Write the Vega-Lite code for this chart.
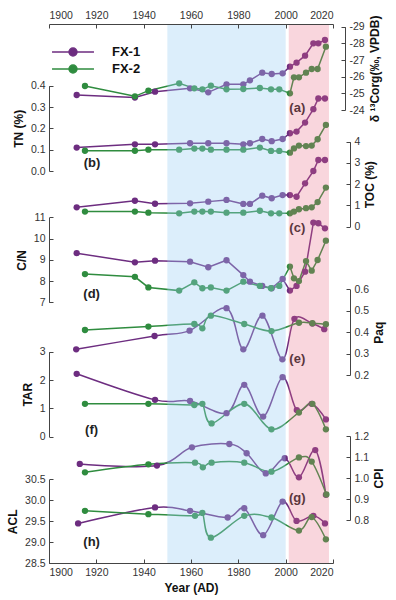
{
 "$schema": "https://vega.github.io/schema/vega-lite/v6.json",
 "width": 284, "height": 539,
 "autosize": {"type": "none"},
 "padding": {"left": 49, "top": 24, "right": 63, "bottom": 37},
 "datasets": {
  "d": [
   {"p":"a","s":"FX-1","year":1911.7,"v":-24.9},{"p":"a","s":"FX-1","year":1936.3,"v":-24.75},{"p":"a","s":"FX-1","year":1944.8,"v":-25.1},{"p":"a","s":"FX-1","year":1959.6,"v":-25.3},{"p":"a","s":"FX-1","year":1967.3,"v":-25.06},{"p":"a","s":"FX-1","year":1975,"v":-25.54},{"p":"a","s":"FX-1","year":1982.1,"v":-25.54},{"p":"a","s":"FX-1","year":1984.9,"v":-25.78},{"p":"a","s":"FX-1","year":1990.1,"v":-26.24},{"p":"a","s":"FX-1","year":1994.1,"v":-26.16},{"p":"a","s":"FX-1","year":1998.7,"v":-26.2},{"p":"a","s":"FX-1","year":2001.8,"v":-26.6},{"p":"a","s":"FX-1","year":2004.6,"v":-26.84},{"p":"a","s":"FX-1","year":2008.2,"v":-27.26},{"p":"a","s":"FX-1","year":2011.7,"v":-28},{"p":"a","s":"FX-1","year":2013.8,"v":-28},{"p":"a","s":"FX-1","year":2016.6,"v":-28.2},
   {"p":"a","s":"FX-2","year":1915.2,"v":-25.44},{"p":"a","s":"FX-2","year":1936.3,"v":-24.82},{"p":"a","s":"FX-2","year":1942,"v":-25.16},{"p":"a","s":"FX-2","year":1955,"v":-25.6},{"p":"a","s":"FX-2","year":1961.4,"v":-25.3},{"p":"a","s":"FX-2","year":1964.8,"v":-25.24},{"p":"a","s":"FX-2","year":1968.4,"v":-25.46},{"p":"a","s":"FX-2","year":1975,"v":-25.24},{"p":"a","s":"FX-2","year":1982.1,"v":-25.26},{"p":"a","s":"FX-2","year":1989.1,"v":-25.32},{"p":"a","s":"FX-2","year":1993.8,"v":-25.24},{"p":"a","s":"FX-2","year":1997.3,"v":-25.24},{"p":"a","s":"FX-2","year":2001.8,"v":-25.0},{"p":"a","s":"FX-2","year":2003.5,"v":-25.96},{"p":"a","s":"FX-2","year":2005.6,"v":-25.96},{"p":"a","s":"FX-2","year":2008.6,"v":-26.24},{"p":"a","s":"FX-2","year":2011,"v":-26.46},{"p":"a","s":"FX-2","year":2013.5,"v":-26.46},{"p":"a","s":"FX-2","year":2017,"v":-27.8},
   {"p":"b","s":"FX-1","year":1911.7,"v":0.11},{"p":"b","s":"FX-1","year":1936.3,"v":0.125},{"p":"b","s":"FX-1","year":1944.8,"v":0.125},{"p":"b","s":"FX-1","year":1959.6,"v":0.13},{"p":"b","s":"FX-1","year":1967.3,"v":0.13},{"p":"b","s":"FX-1","year":1975,"v":0.13},{"p":"b","s":"FX-1","year":1982.1,"v":0.125},{"p":"b","s":"FX-1","year":1984.9,"v":0.13},{"p":"b","s":"FX-1","year":1990.1,"v":0.15},{"p":"b","s":"FX-1","year":1994.1,"v":0.14},{"p":"b","s":"FX-1","year":1998.7,"v":0.15},{"p":"b","s":"FX-1","year":2001.8,"v":0.177},{"p":"b","s":"FX-1","year":2004.6,"v":0.185},{"p":"b","s":"FX-1","year":2008.2,"v":0.227},{"p":"b","s":"FX-1","year":2011.7,"v":0.29},{"p":"b","s":"FX-1","year":2013.8,"v":0.34},{"p":"b","s":"FX-1","year":2016.6,"v":0.34},
   {"p":"b","s":"FX-2","year":1915.2,"v":0.095},{"p":"b","s":"FX-2","year":1936.3,"v":0.095},{"p":"b","s":"FX-2","year":1942,"v":0.1},{"p":"b","s":"FX-2","year":1955,"v":0.1},{"p":"b","s":"FX-2","year":1961.4,"v":0.105},{"p":"b","s":"FX-2","year":1964.8,"v":0.105},{"p":"b","s":"FX-2","year":1968.4,"v":0.1},{"p":"b","s":"FX-2","year":1975,"v":0.1},{"p":"b","s":"FX-2","year":1982.1,"v":0.1},{"p":"b","s":"FX-2","year":1989.1,"v":0.11},{"p":"b","s":"FX-2","year":1993.8,"v":0.094},{"p":"b","s":"FX-2","year":1997.3,"v":0.094},{"p":"b","s":"FX-2","year":2001.8,"v":0.086},{"p":"b","s":"FX-2","year":2003.5,"v":0.106},{"p":"b","s":"FX-2","year":2005.6,"v":0.119},{"p":"b","s":"FX-2","year":2008.6,"v":0.117},{"p":"b","s":"FX-2","year":2011,"v":0.119},{"p":"b","s":"FX-2","year":2013.5,"v":0.149},{"p":"b","s":"FX-2","year":2017,"v":0.216},
   {"p":"c","s":"FX-1","year":1911.7,"v":0.91},{"p":"c","s":"FX-1","year":1936.3,"v":1.22},{"p":"c","s":"FX-1","year":1944.8,"v":1.08},{"p":"c","s":"FX-1","year":1959.6,"v":1.1},{"p":"c","s":"FX-1","year":1967.3,"v":1.18},{"p":"c","s":"FX-1","year":1975,"v":1.26},{"p":"c","s":"FX-1","year":1982.1,"v":1.07},{"p":"c","s":"FX-1","year":1984.9,"v":1.07},{"p":"c","s":"FX-1","year":1990.1,"v":1.46},{"p":"c","s":"FX-1","year":1994.1,"v":1.34},{"p":"c","s":"FX-1","year":1998.7,"v":1.49},{"p":"c","s":"FX-1","year":2001.8,"v":1.49},{"p":"c","s":"FX-1","year":2004.6,"v":1.41},{"p":"c","s":"FX-1","year":2008.2,"v":2.04},{"p":"c","s":"FX-1","year":2011.7,"v":2.62},{"p":"c","s":"FX-1","year":2013.8,"v":3.14},{"p":"c","s":"FX-1","year":2016.6,"v":3.14},
   {"p":"c","s":"FX-2","year":1915.2,"v":0.71},{"p":"c","s":"FX-2","year":1936.3,"v":0.71},{"p":"c","s":"FX-2","year":1942,"v":0.66},{"p":"c","s":"FX-2","year":1955,"v":0.63},{"p":"c","s":"FX-2","year":1961.4,"v":0.71},{"p":"c","s":"FX-2","year":1964.8,"v":0.71},{"p":"c","s":"FX-2","year":1968.4,"v":0.71},{"p":"c","s":"FX-2","year":1975,"v":0.66},{"p":"c","s":"FX-2","year":1982.1,"v":0.66},{"p":"c","s":"FX-2","year":1989.1,"v":0.75},{"p":"c","s":"FX-2","year":1993.8,"v":0.63},{"p":"c","s":"FX-2","year":1997.3,"v":0.63},{"p":"c","s":"FX-2","year":2001.8,"v":0.63},{"p":"c","s":"FX-2","year":2003.5,"v":0.71},{"p":"c","s":"FX-2","year":2005.6,"v":0.82},{"p":"c","s":"FX-2","year":2008.6,"v":0.87},{"p":"c","s":"FX-2","year":2011,"v":0.91},{"p":"c","s":"FX-2","year":2013.5,"v":1.16},{"p":"c","s":"FX-2","year":2017,"v":1.84},
   {"p":"d","s":"FX-1","year":1911.7,"v":9.31},{"p":"d","s":"FX-1","year":1936.3,"v":8.88},{"p":"d","s":"FX-1","year":1944.8,"v":8.96},{"p":"d","s":"FX-1","year":1959.6,"v":8.91},{"p":"d","s":"FX-1","year":1967.3,"v":8.65},{"p":"d","s":"FX-1","year":1975,"v":8.98},{"p":"d","s":"FX-1","year":1982.1,"v":8.28},{"p":"d","s":"FX-1","year":1984.9,"v":7.97},{"p":"d","s":"FX-1","year":1990.1,"v":7.77},{"p":"d","s":"FX-1","year":1994.1,"v":7.66},{"p":"d","s":"FX-1","year":1998.7,"v":8.1},{"p":"d","s":"FX-1","year":2001.8,"v":7.55},{"p":"d","s":"FX-1","year":2004.6,"v":7.77},{"p":"d","s":"FX-1","year":2008.2,"v":8.44},{"p":"d","s":"FX-1","year":2011.7,"v":10.75},{"p":"d","s":"FX-1","year":2013.8,"v":10.72},{"p":"d","s":"FX-1","year":2016.6,"v":10.48},
   {"p":"d","s":"FX-2","year":1915.2,"v":8.33},{"p":"d","s":"FX-2","year":1936.3,"v":8.2},{"p":"d","s":"FX-2","year":1942,"v":7.7},{"p":"d","s":"FX-2","year":1955,"v":7.55},{"p":"d","s":"FX-2","year":1961.4,"v":7.94},{"p":"d","s":"FX-2","year":1964.8,"v":7.66},{"p":"d","s":"FX-2","year":1968.4,"v":7.7},{"p":"d","s":"FX-2","year":1975,"v":7.55},{"p":"d","s":"FX-2","year":1982.1,"v":7.97},{"p":"d","s":"FX-2","year":1989.1,"v":7.77},{"p":"d","s":"FX-2","year":1993.8,"v":7.66},{"p":"d","s":"FX-2","year":1997.3,"v":7.77},{"p":"d","s":"FX-2","year":2001.8,"v":8.68},{"p":"d","s":"FX-2","year":2003.5,"v":8.13},{"p":"d","s":"FX-2","year":2005.6,"v":8.0},{"p":"d","s":"FX-2","year":2008.6,"v":8.94},{"p":"d","s":"FX-2","year":2011,"v":8.49},{"p":"d","s":"FX-2","year":2013.5,"v":8.99},{"p":"d","s":"FX-2","year":2017,"v":9.9},
   {"p":"e","s":"FX-1","year":1911.5,"v":0.32},{"p":"e","s":"FX-1","year":1944.6,"v":0.382},{"p":"e","s":"FX-1","year":1959.4,"v":0.407},{"p":"e","s":"FX-1","year":1975,"v":0.512},{"p":"e","s":"FX-1","year":1982.1,"v":0.32},{"p":"e","s":"FX-1","year":1990.2,"v":0.477},{"p":"e","s":"FX-1","year":1998.6,"v":0.273},{"p":"e","s":"FX-1","year":2003.7,"v":0.462},{"p":"e","s":"FX-1","year":2011.3,"v":0.44},{"p":"e","s":"FX-1","year":2016.3,"v":0.414},
   {"p":"e","s":"FX-2","year":1915.2,"v":0.41},{"p":"e","s":"FX-2","year":1942,"v":0.426},{"p":"e","s":"FX-2","year":1961.4,"v":0.438},{"p":"e","s":"FX-2","year":1964.8,"v":0.418},{"p":"e","s":"FX-2","year":1968.4,"v":0.477},{"p":"e","s":"FX-2","year":1982.5,"v":0.438},{"p":"e","s":"FX-2","year":1994,"v":0.405},{"p":"e","s":"FX-2","year":2005.6,"v":0.444},{"p":"e","s":"FX-2","year":2011.3,"v":0.442},{"p":"e","s":"FX-2","year":2017,"v":0.437},
   {"p":"f","s":"FX-1","year":1911.7,"v":2.22},{"p":"f","s":"FX-1","year":1944.8,"v":1.3},{"p":"f","s":"FX-1","year":1959.6,"v":1.26},{"p":"f","s":"FX-1","year":1975,"v":0.83},{"p":"f","s":"FX-1","year":1982.5,"v":1.83},{"p":"f","s":"FX-1","year":1990.5,"v":0.71},{"p":"f","s":"FX-1","year":1998.7,"v":2.1},{"p":"f","s":"FX-1","year":2004.7,"v":0.94},{"p":"f","s":"FX-1","year":2011,"v":1.16},{"p":"f","s":"FX-1","year":2017,"v":0.61},
   {"p":"f","s":"FX-2","year":1915.2,"v":1.16},{"p":"f","s":"FX-2","year":1942,"v":1.16},{"p":"f","s":"FX-2","year":1961.4,"v":1.12},{"p":"f","s":"FX-2","year":1964.8,"v":1.16},{"p":"f","s":"FX-2","year":1968.7,"v":0.47},{"p":"f","s":"FX-2","year":1982.5,"v":1.16},{"p":"f","s":"FX-2","year":1994,"v":0.26},{"p":"f","s":"FX-2","year":2005.6,"v":0.85},{"p":"f","s":"FX-2","year":2011.3,"v":1.16},{"p":"f","s":"FX-2","year":2017,"v":0.26},
   {"p":"g","s":"FX-1","year":1913,"v":1.067},{"p":"g","s":"FX-1","year":1945.6,"v":1.059},{"p":"g","s":"FX-1","year":1960.4,"v":1.146},{"p":"g","s":"FX-1","year":1976.2,"v":1.162},{"p":"g","s":"FX-1","year":1983.5,"v":1.118},{"p":"g","s":"FX-1","year":1991.6,"v":1.022},{"p":"g","s":"FX-1","year":1999.6,"v":1.094},{"p":"g","s":"FX-1","year":2005.6,"v":1.003},{"p":"g","s":"FX-1","year":2012.5,"v":1.133},{"p":"g","s":"FX-1","year":2017,"v":0.92},
   {"p":"g","s":"FX-2","year":1915.2,"v":1.027},{"p":"g","s":"FX-2","year":1942,"v":1.065},{"p":"g","s":"FX-2","year":1961.7,"v":1.073},{"p":"g","s":"FX-2","year":1965,"v":1.051},{"p":"g","s":"FX-2","year":1968.7,"v":1.073},{"p":"g","s":"FX-2","year":1982.5,"v":1.073},{"p":"g","s":"FX-2","year":1994,"v":1.03},{"p":"g","s":"FX-2","year":2005.6,"v":1.098},{"p":"g","s":"FX-2","year":2011,"v":1.078},{"p":"g","s":"FX-2","year":2017.2,"v":0.922},
   {"p":"h","s":"FX-1","year":1912.3,"v":29.45},{"p":"h","s":"FX-1","year":1944.8,"v":29.83},{"p":"h","s":"FX-1","year":1959.6,"v":29.75},{"p":"h","s":"FX-1","year":1975.5,"v":29.59},{"p":"h","s":"FX-1","year":1982.5,"v":29.81},{"p":"h","s":"FX-1","year":1990.5,"v":29.17},{"p":"h","s":"FX-1","year":1998.7,"v":29.97},{"p":"h","s":"FX-1","year":2004.6,"v":29.51},{"p":"h","s":"FX-1","year":2011.7,"v":29.63},{"p":"h","s":"FX-1","year":2016.6,"v":29.45},
   {"p":"h","s":"FX-2","year":1915.2,"v":29.75},{"p":"h","s":"FX-2","year":1942,"v":29.67},{"p":"h","s":"FX-2","year":1961.7,"v":29.63},{"p":"h","s":"FX-2","year":1964.8,"v":29.7},{"p":"h","s":"FX-2","year":1968.4,"v":29.11},{"p":"h","s":"FX-2","year":1982.5,"v":29.63},{"p":"h","s":"FX-2","year":1994,"v":29.59},{"p":"h","s":"FX-2","year":2005.6,"v":29.28},{"p":"h","s":"FX-2","year":2011,"v":29.6},{"p":"h","s":"FX-2","year":2017,"v":29.07}
  ],
  "lab": [
   {"p":"a","lab":"(a)","year":2004.9,"v":-24.1},
   {"p":"b","lab":"(b)","year":1918.2,"v":0.0375},
   {"p":"c","lab":"(c)","year":2004.9,"v":-0.06},
   {"p":"d","lab":"(d)","year":1918,"v":7.39},
   {"p":"e","lab":"(e)","year":2004.9,"v":0.275},
   {"p":"f","lab":"(f)","year":1918,"v":0.237},
   {"p":"g","lab":"(g)","year":2004.9,"v":0.905},
   {"p":"h","lab":"(h)","year":1918,"v":29.007}
  ],
  "shade": [
   {"r":"blue","start":1950,"end":2000},
   {"r":"pink","start":2001.3,"end":2018.3}
  ]
 },
 "data": {"name": "d"},
 "resolve": {"scale": {"y": "independent"}, "axis": {"x": "independent", "y": "independent"}},
 "layer": [
  {
   "encoding": {
    "x": {"field":"year","type":"quantitative","scale":{"domain":[1900,2020],"nice":false,"zero":false},"axis":null},
    "y": {"field":"v","type":"quantitative","scale":{"domain":[-29,-24],"range":[2.7,86],"nice":false,"zero":false},
          "axis":{"orient":"right","offset":12,"values":[-29,-28,-27,-26,-25,-24],"labelExpr":"'' + datum.value","title":"δ ¹³Corg(‰, VPDB)","titleAngle":-90,"titleBaseline":"top"}}
   },
   "layer": [
    {"transform":[{"filter":"datum.p === 'a'"}],"mark":{"type":"line","strokeWidth":1.5},
     "encoding":{"stroke":{"field":"s","type":"nominal","scale":{"domain":["FX-1","FX-2"],"range":["#6d2d80","#2f8c3f"]},
        "legend":{"orient":"none","legendX":14,"legendY":18,"title":null,"padding":0,"rowPadding":0,
        "symbolType":"M-2.33,0L2.33,0M0.45,0A0.45,0.45,0,1,1,-0.45,0A0.45,0.45,0,1,1,0.45,0","symbolSize":324,"symbolStrokeWidth":1.3,"symbolOpacity":1,
        "labelOffset":29,"labelFont":"Liberation Sans","labelFontSize":13,"labelFontWeight":"bold","labelColor":"#111"}}}},
    {"transform":[{"filter":"datum.p === 'a'"}],"mark":{"type":"point","filled":true,"size":40,"opacity":1},
     "encoding":{"fill":{"field":"s","type":"nominal","scale":{"domain":["FX-1","FX-2"],"range":["#6d2d80","#2f8c3f"]},
        "legend":{"orient":"none","legendX":14,"legendY":18,"title":null,"padding":0,"rowPadding":0,
        "symbolType":"M-2.33,0L2.33,0M0.45,0A0.45,0.45,0,1,1,-0.45,0A0.45,0.45,0,1,1,0.45,0","symbolSize":324,"symbolStrokeWidth":1.3,"symbolOpacity":1,
        "labelOffset":29,"labelFont":"Liberation Sans","labelFontSize":13,"labelFontWeight":"bold","labelColor":"#111"}}}},
    {"data":{"name":"lab"},"transform":[{"filter":"datum.p === 'a'"}],"mark":{"type":"text","font":"Liberation Sans","fontSize":13,"fontWeight":"bold","color":"#222","align":"center","baseline":"middle"},
     "encoding":{"text":{"field":"lab"}}}
   ]
  },
  {
   "encoding": {
    "x": {"field":"year","type":"quantitative","scale":{"domain":[1900,2020],"nice":false,"zero":false},"axis":null},
    "y": {"field":"v","type":"quantitative","scale":{"domain":[0,0.4],"range":[147,61.7],"nice":false,"zero":false},
          "axis":{"orient":"left","values":[0,0.1,0.2,0.3,0.4],"format":".1f","title":"TN (%)"}}
   },
   "layer": [
    {"transform":[{"filter":"datum.p === 'b'"}],"mark":{"type":"line","strokeWidth":1.5},"encoding":{"stroke":{"field":"s","type":"nominal"}}},
    {"transform":[{"filter":"datum.p === 'b'"}],"mark":{"type":"point","filled":true,"size":40,"opacity":1},"encoding":{"fill":{"field":"s","type":"nominal"}}},
    {"data":{"name":"lab"},"transform":[{"filter":"datum.p === 'b'"}],"mark":{"type":"text","font":"Liberation Sans","fontSize":13,"fontWeight":"bold","color":"#222","align":"center","baseline":"middle"},"encoding":{"text":{"field":"lab"}}}
   ]
  },
  {
   "encoding": {
    "x": {"field":"year","type":"quantitative","scale":{"domain":[1900,2020],"nice":false,"zero":false},"axis":null},
    "y": {"field":"v","type":"quantitative","scale":{"domain":[0,4],"range":[202.7,117.7],"nice":false,"zero":false},
          "axis":{"orient":"right","offset":17,"values":[0,1,2,3,4],"format":"d","title":"TOC (%)","titleAngle":-90,"titleBaseline":"top"}}
   },
   "layer": [
    {"transform":[{"filter":"datum.p === 'c'"}],"mark":{"type":"line","strokeWidth":1.5},"encoding":{"stroke":{"field":"s","type":"nominal"}}},
    {"transform":[{"filter":"datum.p === 'c'"}],"mark":{"type":"point","filled":true,"size":40,"opacity":1},"encoding":{"fill":{"field":"s","type":"nominal"}}},
    {"data":{"name":"lab"},"transform":[{"filter":"datum.p === 'c'"}],"mark":{"type":"text","font":"Liberation Sans","fontSize":13,"fontWeight":"bold","color":"#222","align":"center","baseline":"middle"},"encoding":{"text":{"field":"lab"}}}
   ]
  },
  {
   "encoding": {
    "x": {"field":"year","type":"quantitative","scale":{"domain":[1900,2020],"nice":false,"zero":false},"axis":null},
    "y": {"field":"v","type":"quantitative","scale":{"domain":[7,11],"range":[278.3,193.3],"nice":false,"zero":false},
          "axis":{"orient":"left","values":[7,8,9,10,11],"format":"d","title":"C/N"}}
   },
   "layer": [
    {"transform":[{"filter":"datum.p === 'd'"}],"mark":{"type":"line","strokeWidth":1.5},"encoding":{"stroke":{"field":"s","type":"nominal"}}},
    {"transform":[{"filter":"datum.p === 'd'"}],"mark":{"type":"point","filled":true,"size":40,"opacity":1},"encoding":{"fill":{"field":"s","type":"nominal"}}},
    {"data":{"name":"lab"},"transform":[{"filter":"datum.p === 'd'"}],"mark":{"type":"text","font":"Liberation Sans","fontSize":13,"fontWeight":"bold","color":"#222","align":"center","baseline":"middle"},"encoding":{"text":{"field":"lab"}}}
   ]
  },
  {
   "encoding": {
    "x": {"field":"year","type":"quantitative","scale":{"domain":[1900,2020],"nice":false,"zero":false},"axis":null},
    "y": {"field":"v","type":"quantitative","scale":{"domain":[0.2,0.6],"range":[351,265.3],"nice":false,"zero":false},
          "axis":{"orient":"right","offset":17,"values":[0.2,0.3,0.4,0.5,0.6],"format":".1f","title":"Paq","titleAngle":-90,"titleBaseline":"top"}}
   },
   "layer": [
    {"transform":[{"filter":"datum.p === 'e'"}],"mark":{"type":"line","strokeWidth":1.5,"interpolate":"cardinal"},"encoding":{"stroke":{"field":"s","type":"nominal"}}},
    {"transform":[{"filter":"datum.p === 'e'"}],"mark":{"type":"point","filled":true,"size":40,"opacity":1},"encoding":{"fill":{"field":"s","type":"nominal"}}},
    {"data":{"name":"lab"},"transform":[{"filter":"datum.p === 'e'"}],"mark":{"type":"text","font":"Liberation Sans","fontSize":13,"fontWeight":"bold","color":"#222","align":"center","baseline":"middle"},"encoding":{"text":{"field":"lab"}}}
   ]
  },
  {
   "encoding": {
    "x": {"field":"year","type":"quantitative","scale":{"domain":[1900,2020],"nice":false,"zero":false},"axis":null},
    "y": {"field":"v","type":"quantitative","scale":{"domain":[0,3],"range":[412.7,327.7],"nice":false,"zero":false},
          "axis":{"orient":"left","values":[0,1,2,3],"format":"d","title":"TAR"}}
   },
   "layer": [
    {"transform":[{"filter":"datum.p === 'f'"}],"mark":{"type":"line","strokeWidth":1.5,"interpolate":"cardinal"},"encoding":{"stroke":{"field":"s","type":"nominal"}}},
    {"transform":[{"filter":"datum.p === 'f'"}],"mark":{"type":"point","filled":true,"size":40,"opacity":1},"encoding":{"fill":{"field":"s","type":"nominal"}}},
    {"data":{"name":"lab"},"transform":[{"filter":"datum.p === 'f'"}],"mark":{"type":"text","font":"Liberation Sans","fontSize":13,"fontWeight":"bold","color":"#222","align":"center","baseline":"middle"},"encoding":{"text":{"field":"lab"}}}
   ]
  },
  {
   "encoding": {
    "x": {"field":"year","type":"quantitative","scale":{"domain":[1900,2020],"nice":false,"zero":false},"axis":null},
    "y": {"field":"v","type":"quantitative","scale":{"domain":[0.8,1.2],"range":[496,412],"nice":false,"zero":false},
          "axis":{"orient":"right","offset":17,"values":[0.8,0.9,1.0,1.1,1.2],"format":".1f","title":"CPI","titleAngle":-90,"titleBaseline":"top"}}
   },
   "layer": [
    {"transform":[{"filter":"datum.p === 'g'"}],"mark":{"type":"line","strokeWidth":1.5,"interpolate":"cardinal"},"encoding":{"stroke":{"field":"s","type":"nominal"}}},
    {"transform":[{"filter":"datum.p === 'g'"}],"mark":{"type":"point","filled":true,"size":40,"opacity":1},"encoding":{"fill":{"field":"s","type":"nominal"}}},
    {"data":{"name":"lab"},"transform":[{"filter":"datum.p === 'g'"}],"mark":{"type":"text","font":"Liberation Sans","fontSize":13,"fontWeight":"bold","color":"#222","align":"center","baseline":"middle"},"encoding":{"text":{"field":"lab"}}}
   ]
  },
  {
   "encoding": {
    "x": {"field":"year","type":"quantitative","scale":{"domain":[1900,2020],"nice":false,"zero":false},
          "axis":{"orient":"bottom","values":[1900,1920,1940,1960,1980,2000,2020],"format":"d","title":"Year (AD)","zindex":1}},
    "y": {"field":"v","type":"quantitative","scale":{"domain":[28.5,30.5],"range":[539.3,455.3],"nice":false,"zero":false},
          "axis":{"orient":"left","values":[28.5,29,29.5,30,30.5],"format":".1f","title":"ACL"}}
   },
   "layer": [
    {"transform":[{"filter":"datum.p === 'h'"}],"mark":{"type":"line","strokeWidth":1.5,"interpolate":"cardinal"},"encoding":{"stroke":{"field":"s","type":"nominal"}}},
    {"transform":[{"filter":"datum.p === 'h'"}],"mark":{"type":"point","filled":true,"size":40,"opacity":1},"encoding":{"fill":{"field":"s","type":"nominal"}}},
    {"data":{"name":"lab"},"transform":[{"filter":"datum.p === 'h'"}],"mark":{"type":"text","font":"Liberation Sans","fontSize":13,"fontWeight":"bold","color":"#222","align":"center","baseline":"middle"},"encoding":{"text":{"field":"lab"}}}
   ]
  },
  {
   "data": {"name": "shade"},
   "transform": [{"filter": "datum.r === 'blue'"}],
   "mark": {"type": "rect", "color": "#9bcef4", "opacity": 0.35},
   "encoding": {
    "x": {"field":"start","type":"quantitative","scale":{"domain":[1900,2020],"nice":false,"zero":false},
          "axis":{"orient":"top","values":[1900,1920,1940,1960,1980,2000,2020],"format":"d","title":null,"zindex":1}},
    "x2": {"field":"end"}
   }
  },
  {
   "data": {"name": "shade"},
   "transform": [{"filter": "datum.r === 'pink'"}],
   "mark": {"type": "rect", "color": "#eb6c84", "opacity": 0.28},
   "encoding": {
    "x": {"field":"start","type":"quantitative","scale":{"domain":[1900,2020],"nice":false,"zero":false},"axis":null},
    "x2": {"field":"end"}
   }
  }
 ],
 "config": {
  "view": {"stroke": null},
  "font": "Liberation Sans",
  "axis": {"labelFont":"Liberation Sans","labelFontSize":10.5,"labelColor":"#333","titleFont":"Liberation Sans","titleFontSize":12,"titleFontWeight":"bold","titleColor":"#111",
           "domainColor":"#444","tickColor":"#444","tickSize":-4,"labelPadding":8,"grid":false,"titlePadding":5}
 }
}
